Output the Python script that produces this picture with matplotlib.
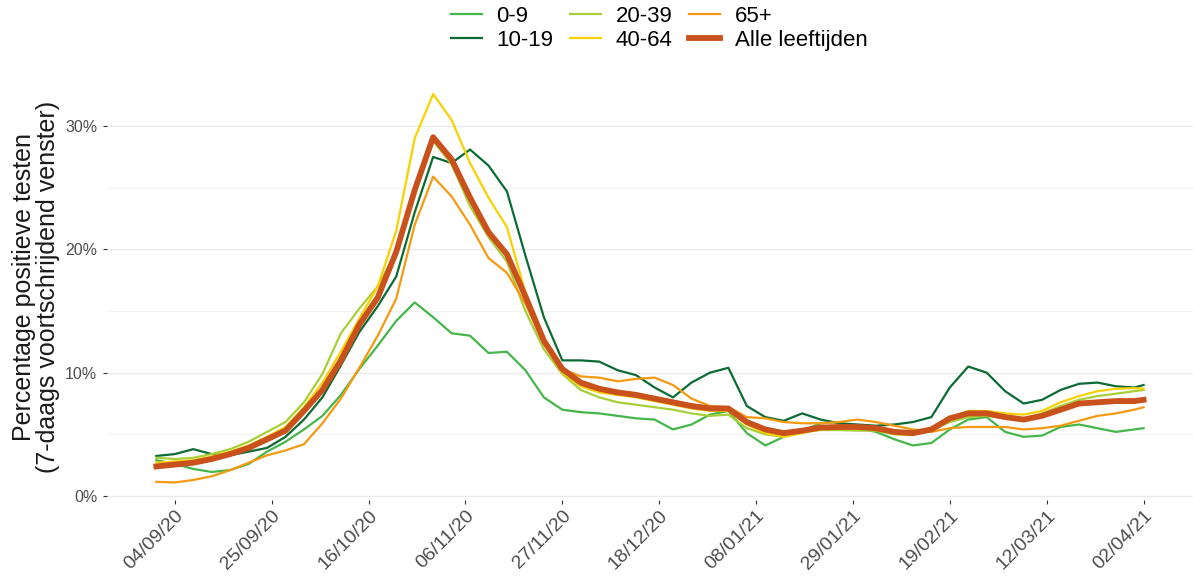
import pandas as pd
import matplotlib
matplotlib.use("Agg")
import matplotlib.pyplot as plt
import matplotlib.dates as mdates
from matplotlib.ticker import FuncFormatter

plt.rcParams["font.family"] = ["Liberation Sans", "DejaVu Sans"]

# dates: every 4 days from 31/08/20, plus the last day
dates = list(pd.date_range("2020-08-31", periods=54, freq="4D")) + [pd.Timestamp("2021-04-02")]

age_0_9 = [2.9, 2.6, 2.2, 1.95, 2.1, 2.6, 3.6, 4.4, 5.4, 6.5, 8.2, 10.3, 12.2, 14.2, 15.7,
           14.5, 13.2, 13.0, 11.6, 11.7, 10.2, 8.0, 7.0, 6.8, 6.7, 6.5, 6.3, 6.2, 5.4, 5.8,
           6.6, 6.9, 5.1, 4.1, 4.8, 5.3, 5.9, 6.0, 5.5, 5.2, 4.6, 4.1, 4.3, 5.4, 6.2, 6.4,
           5.2, 4.8, 4.9, 5.6, 5.8, 5.5, 5.2, 5.4, 5.5]
age_10_19 = [3.25, 3.4, 3.8, 3.4, 3.3, 3.6, 3.9, 4.8, 6.2, 8.0, 10.6, 13.3, 15.4, 17.8, 23.0,
             27.5, 27.0, 28.1, 26.8, 24.7, 19.5, 14.5, 11.0, 11.0, 10.9, 10.2, 9.8, 8.8, 8.0, 9.2,
             10.0, 10.4, 7.3, 6.4, 6.1, 6.7, 6.2, 5.9, 5.8, 5.7, 5.8, 6.0, 6.4, 8.8, 10.5, 10.0,
             8.5, 7.5, 7.8, 8.6, 9.1, 9.2, 8.9, 8.8, 9.0]
age_20_39 = [3.1, 3.0, 3.1, 3.4, 3.8, 4.4, 5.2, 6.0, 7.6, 9.9, 13.2, 15.2, 17.0, 19.8, 24.5,
             28.8, 26.9, 23.5, 21.0, 19.0, 15.0, 11.9, 9.9, 8.6, 8.0, 7.6, 7.4, 7.2, 7.0, 6.7,
             6.5, 6.6, 5.5, 5.0, 4.8, 5.2, 5.35, 5.35, 5.3, 5.3, 5.0, 4.95, 5.3, 6.0, 6.4, 6.5,
             6.3, 6.2, 6.7, 7.3, 7.8, 8.1, 8.3, 8.5, 8.6]
age_40_64 = [2.7, 2.8, 2.9, 3.2, 3.6, 4.1, 4.8, 5.6, 7.2, 9.2, 11.7, 14.4, 17.0, 21.5, 29.0,
             32.6, 30.5, 27.0, 24.2, 21.8, 16.5, 12.4, 10.0, 8.9, 8.4, 8.2, 8.0, 7.7, 7.4, 7.1,
             6.9, 6.9, 5.8, 5.1, 4.8, 5.1, 5.4, 5.5, 5.5, 5.4, 5.1, 5.0, 5.3, 6.3, 6.9, 6.9,
             6.7, 6.6, 6.9, 7.6, 8.1, 8.5, 8.7, 8.75, 8.7]
age_65 = [1.15, 1.1, 1.3, 1.6, 2.1, 2.7, 3.3, 3.7, 4.2, 5.9, 7.9, 10.4, 13.0, 16.0, 22.0,
          25.9, 24.3, 22.0, 19.3, 18.1, 15.6, 12.3, 10.3, 9.7, 9.6, 9.3, 9.5, 9.6, 9.0, 7.9,
          7.3, 7.2, 6.4, 6.3, 6.0, 5.9, 5.9, 6.0, 6.2, 6.0, 5.7, 5.4, 5.2, 5.5, 5.6, 5.6,
          5.6, 5.4, 5.5, 5.7, 6.1, 6.5, 6.7, 7.0, 7.2]
alle = [2.4, 2.55, 2.7, 3.0, 3.4, 3.9, 4.6, 5.3, 6.9, 8.6, 11.0, 13.9, 16.1, 19.8, 24.8,
        29.1, 27.3, 24.2, 21.4, 19.6, 16.2, 12.6, 10.3, 9.2, 8.7, 8.4, 8.2, 7.9, 7.6, 7.3,
        7.1, 7.1, 6.0, 5.4, 5.1, 5.3, 5.55, 5.6, 5.6, 5.5, 5.2, 5.1, 5.4, 6.3, 6.7, 6.7,
        6.4, 6.2, 6.5, 7.0, 7.5, 7.6, 7.7, 7.7, 7.8]

labels = ["0-9", "10-19", "20-39", "40-64", "65+", "Alle leeftijden"]
series = [age_0_9, age_10_19, age_20_39, age_40_64, age_65, alle]
colors = ["#45b649", "#0c6b35", "#a9cf38", "#f7d100", "#f39a10", "#c9511c"]
widths = [1.6, 1.6, 1.6, 1.6, 1.6, 4.2]

tick_dates = pd.date_range("2020-09-04", "2021-04-02", freq="21D")

fig = plt.figure(figsize=(11.94, 5.8), dpi=100)
ax = fig.add_axes([0.0896, 0.138, 0.9095, 0.736])

for vals, lab, col, lw in zip(series, labels, colors, widths):
    ax.plot(dates, vals, color=col, lw=lw, label=lab, solid_joinstyle="round")

start = pd.Timestamp("2020-08-31")
ax.set_xlim(start - pd.Timedelta(days=10.7), start + pd.Timedelta(days=224.7))
ax.set_ylim(-0.32, 34.3)

ax.set_xticks(tick_dates)
ax.xaxis.set_major_formatter(mdates.DateFormatter("%d/%m/%y"))
ax.set_yticks([0, 10, 20, 30])
ax.set_yticks([5, 15, 25], minor=True)
ax.yaxis.set_major_formatter(FuncFormatter(lambda v, p: f"{v:.0f}%"))

for s in ax.spines.values():
    s.set_visible(False)
ax.grid(axis="y", which="major", color="#ebebeb", lw=1.0)
ax.grid(axis="y", which="minor", color="#f2f2f2", lw=0.9)
ax.grid(axis="x", visible=False)
ax.set_axisbelow(True)

ax.tick_params(axis="y", which="major", length=3, width=0.8, color="#333333",
               labelcolor="#4d4d4d", labelsize=11.5, pad=4)
ax.tick_params(axis="y", which="minor", length=0)
ax.tick_params(axis="x", length=3, width=0.8, color="#333333",
               labelcolor="#4d4d4d", labelsize=14, pad=2)
for t in ax.get_xticklabels():
    t.set_rotation(45)
    t.set_ha("right")
    t.set_rotation_mode("anchor")

ax.set_ylabel("Percentage positieve testen\n(7-daags voortschrijdend venster)",
              fontsize=18, color="#1a1a1a", linespacing=1.0)
ax.yaxis.set_label_coords(-0.043, 0.5)

handles, labs = ax.get_legend_handles_labels()
fig.legend(handles, labs, loc="upper center", bbox_to_anchor=(0.552, 1.025), ncol=3,
           frameon=False, fontsize=16, handlelength=1.4, handletextpad=0.65,
           columnspacing=0.75, labelspacing=0.15)

fig.savefig("out.png", dpi=100)
